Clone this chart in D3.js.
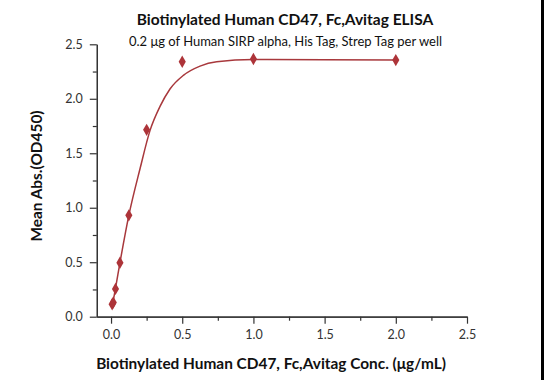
<!DOCTYPE html>
<html>
<head>
<meta charset="utf-8">
<script src="https://cdn.jsdelivr.net/npm/d3@7"></script>
<style>
  html, body { margin: 0; padding: 0; background: #fff; }
  svg { display: block; }
</style>
</head>
<body>
<svg id="chart" width="544" height="380"></svg>
<script>
// ---- data ----
const concentrations = [0.0078, 0.0156, 0.03125, 0.0625, 0.125, 0.25, 0.5, 1, 2];
const absorbance = [0.114, 0.13, 0.255, 0.495, 0.93, 1.715, 2.34, 2.365, 2.355];
// fitted curve
const fitX = [0.0078, 0.0156, 0.03125, 0.0625, 0.125, 0.204, 0.274, 0.344, 0.414, 0.508, 0.625, 0.742, 1.0, 1.5, 2.0];
const fitY = [0.11, 0.15, 0.26, 0.495, 0.93, 1.36, 1.71, 1.93, 2.09, 2.215, 2.30, 2.34, 2.36, 2.358, 2.355];
const xMajorTicks = [0, 0.5, 1.0, 1.5, 2.0, 2.5];
const xMinorTicks = [0.25, 0.75, 1.25, 1.75, 2.25];
const yMajorTicks = [0, 0.5, 1.0, 1.5, 2.0, 2.5];
const yMinorTicks = [0.25, 0.75, 1.25, 1.75, 2.25];
const titleText = "Biotinylated Human CD47, Fc,Avitag ELISA";
const subtitleText = "0.2 \u03bcg of Human SIRP alpha, His Tag, Strep Tag per well";
const xLabel = "Biotinylated Human CD47, Fc,Avitag Conc. (\u03bcg/mL)";
const yLabel = "Mean Abs.(OD450)";

const svg = d3.select("#chart");
const font = "Lato, 'Open Sans', sans-serif";
const red = "#ad3439";
const axisColor = "#333";

const x = d3.scaleLinear().domain([-0.1, 2.5]).range([96.8, 467]);
const y = d3.scaleLinear().domain([0, 2.5]).range([316.7, 44.3]);

// right-edge dark stripe
svg.append("rect").attr("x", 541).attr("y", 0).attr("width", 3).attr("height", 380).attr("fill", "#000");

// axes
const fmt = d3.format(".1f");
function styleAxis(g) {
  g.selectAll("path.domain").attr("stroke", axisColor).attr("stroke-width", 1.2);
  g.selectAll(".tick line").attr("stroke", axisColor).attr("stroke-width", 1.2);
  g.selectAll("text").attr("fill", "#333").style("font-family", font).style("font-size", "12.5px");
}
const xMinor = svg.append("g").attr("transform", `translate(0,${y(0)})`)
  .call(d3.axisBottom(x).tickValues(xMinorTicks).tickSize(4).tickSizeOuter(0).tickFormat(""));
styleAxis(xMinor);
const xMajor = svg.append("g").attr("transform", `translate(0,${y(0)})`)
  .call(d3.axisBottom(x).tickValues(xMajorTicks).tickSize(7).tickSizeOuter(0).tickPadding(6).tickFormat(fmt));
styleAxis(xMajor);

const yMinor = svg.append("g").attr("transform", `translate(${x.range()[0]},0)`)
  .call(d3.axisLeft(y).tickValues(yMinorTicks).tickSize(4).tickSizeOuter(0).tickFormat(""));
styleAxis(yMinor);
const yMajor = svg.append("g").attr("transform", `translate(${x.range()[0]},0)`)
  .call(d3.axisLeft(y).tickValues(yMajorTicks).tickSize(7).tickSizeOuter(0).tickPadding(7).tickFormat(fmt));
styleAxis(yMajor);

// fit curve
const line = d3.line().x((d, i) => x(fitX[i])).y((d, i) => y(fitY[i])).curve(d3.curveMonotoneX);
svg.append("path").datum(fitX).attr("d", line)
  .attr("fill", "none").attr("stroke", "#a8383c").attr("stroke-width", 1.5);

// markers
svg.append("g").selectAll("path").data(concentrations).join("path")
  .attr("transform", (d, i) => `translate(${x(d)},${y(absorbance[i])})`)
  .attr("d", d3.symbol().type(d3.symbolDiamond).size(44))
  .attr("fill", red);

// titles
svg.append("text").attr("x", 285).attr("y", 25).attr("text-anchor", "middle")
  .style("font-family", font).style("font-weight", "bold").style("font-size", "15.5px").attr("fill", "#111")
  .text(titleText);
svg.append("text").attr("x", 285.5).attr("y", 46).attr("text-anchor", "middle")
  .style("font-family", font).style("font-size", "13px").attr("fill", "#111")
  .text(subtitleText);
svg.append("text").attr("x", 271).attr("y", 369).attr("text-anchor", "middle")
  .style("font-family", font).style("font-weight", "bold").style("font-size", "15.4px").attr("fill", "#111")
  .text(xLabel);
svg.append("text").attr("transform", "translate(42,176) rotate(-90)").attr("text-anchor", "middle")
  .style("font-family", font).style("font-weight", "bold").style("font-size", "15.4px").attr("fill", "#111")
  .text(yLabel);
</script>
</body>
</html>
